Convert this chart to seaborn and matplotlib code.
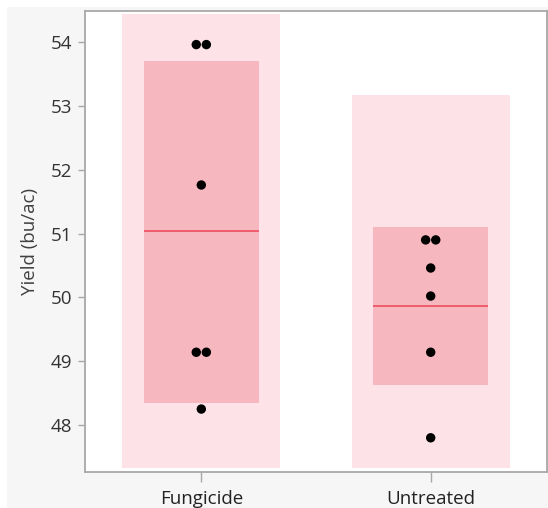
import numpy as np
import pandas as pd
import matplotlib
matplotlib.use("Agg")
import matplotlib.pyplot as plt
from matplotlib.patches import Rectangle
import seaborn as sns

# Yield observations per treatment (bu/ac)
treatments = ["Fungicide", "Untreated"]
fungicide_yield = [53.96, 53.96, 51.76, 49.14, 49.14, 48.25]
untreated_yield = [50.90, 50.90, 50.46, 50.02, 49.14, 47.80]

# Confidence interval of the mean for each treatment
ci_low = [48.34, 48.62]
ci_high = [53.70, 51.10]

# Wider interval for each treatment (shown clipped to the plotting range)
wide_low = [47.33, 47.33]
wide_high = [54.44, 53.17]

yticks = [48, 49, 50, 51, 52, 53, 54]

sns.set_theme(style="white")
plt.rcParams["font.family"] = ["Open Sans", "DejaVu Sans"]

df = pd.DataFrame({
    "Treatment": np.repeat(treatments, [len(fungicide_yield), len(untreated_yield)]),
    "Yield": fungicide_yield + untreated_yield,
})
df["idx"] = df["Treatment"].map({t: i for i, t in enumerate(treatments)})

# Place tied values side by side, centred on the category
step = 0.044
df["rank"] = df.groupby(["Treatment", "Yield"]).cumcount()
df["ties"] = df.groupby(["Treatment", "Yield"])["Yield"].transform("size")
df["xpos"] = df["idx"] + (df["rank"] - (df["ties"] - 1) / 2) * step

means = df.groupby("Treatment", sort=False)["Yield"].mean().reindex(treatments).values

fig = plt.figure(figsize=(5.48, 5.08), dpi=100, facecolor="white")
fig.patches.append(Rectangle((7 / 548, 0), 1, 1 - 7 / 508, transform=fig.transFigure,
                             facecolor="#f6f6f6", edgecolor="none", zorder=-10))
ax = fig.add_axes([85 / 548, 36 / 508, 462 / 548, 461 / 508])
ax.set_facecolor("white")

pos = np.arange(len(treatments))
wide = np.array(wide_high) - np.array(wide_low)
ci = np.array(ci_high) - np.array(ci_low)
ax.bar(pos, wide, bottom=wide_low, width=0.69, color="#fde3e7", linewidth=0, zorder=1)
ax.bar(pos, ci, bottom=ci_low, width=0.50, color="#f7b7bf", linewidth=0, zorder=2)
ax.hlines(means, pos - 0.25, pos + 0.25, color="#ee5566", linewidth=1.3, zorder=3)

sns.scatterplot(data=df, x="xpos", y="Yield", ax=ax, color="black", s=46,
                edgecolor="none", zorder=4, legend=False)

ax.set_xlim(-0.507, 1.507)
ax.set_ylim(47.264, 54.486)
ax.set_xticks(pos)
ax.set_xticklabels(treatments)
ax.set_yticks(yticks)
ax.set_xlabel("")
ax.set_ylabel("Yield (bu/ac)", fontsize=13.5, color="#404040", labelpad=9)

for s in ax.spines.values():
    s.set_visible(True)
    s.set_color("#a8a8a8")
    s.set_linewidth(1.3)
ax.tick_params(axis="y", which="both", left=True, length=5, width=1, color="#a8a8a8",
               labelsize=13.5, labelcolor="#333333", pad=4)
ax.tick_params(axis="x", which="both", bottom=True, length=7, width=1, color="#a8a8a8",
               labelsize=13.5, labelcolor="#222222", pad=6)

fig.savefig("out.png", dpi=100, facecolor=fig.get_facecolor())
